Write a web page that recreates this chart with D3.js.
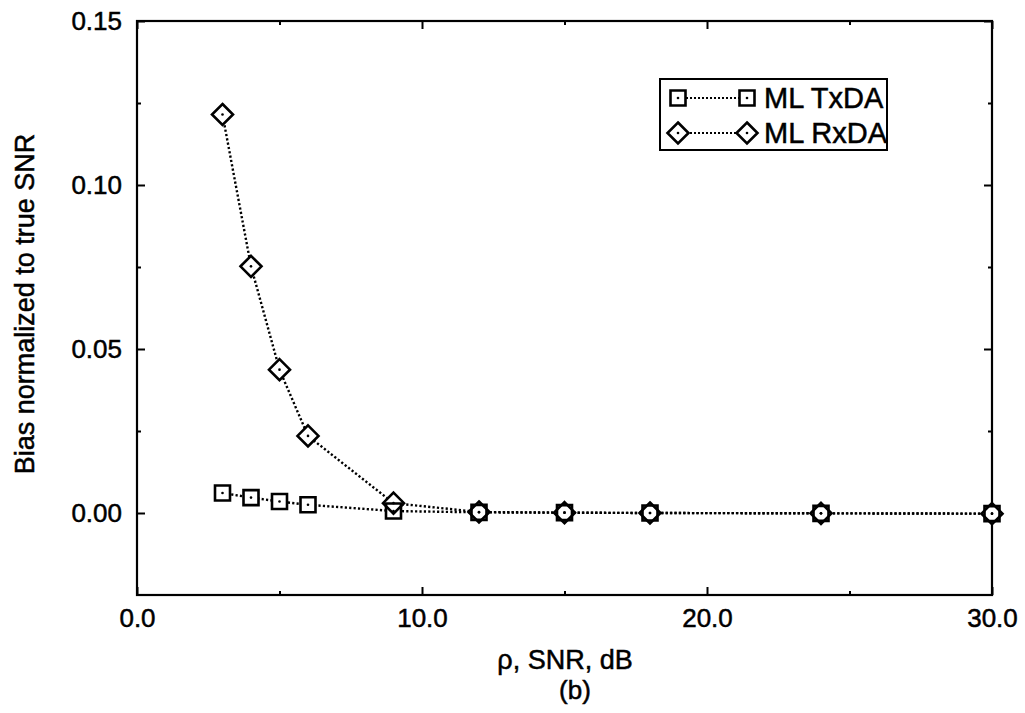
<!DOCTYPE html>
<html>
<head>
<meta charset="utf-8">
<script src="https://cdn.jsdelivr.net/npm/d3@7"></script>
<style>
  body { margin: 0; background: #fff; }
  text { font-family: "Liberation Sans", Arial, Helvetica, sans-serif; fill: #000; stroke: #000; stroke-width: 0.5px; }
</style>
</head>
<body>
<svg id="chart" width="1025" height="713"></svg>
<script>
// snr values (dB)
const snr = [3, 4, 5, 6, 9, 12, 15, 18, 24, 30];
// normalized bias
const txda = [0.0061, 0.0047, 0.0035, 0.0025, 0.0006, 0.0002, 0.0001, 0.0, -0.0001, -0.0002];
const rxda = [0.1215, 0.0752, 0.0437, 0.0235, 0.0030, 0.0003, 0.0001, 0.0, -0.0001, -0.0002];
const seriesNames = ['ML TxDA', 'ML RxDA'];
const xMajor = [0, 10, 20, 30];
const xMinor = [5, 15, 25];
const yMajor = [0.00, 0.05, 0.10, 0.15];
const yMinor = [0.025, 0.075, 0.125];

const plotL = 137, plotR = 992, plotT = 21, plotB = 595;

const svg = d3.select('#chart');

const x = d3.scaleLinear().domain([0, 30]).range([plotL, plotR]);
const y = d3.scaleLinear().domain([-0.025, 0.15]).range([plotB, plotT]);

// axes, ticks inward
function styleAxis(g) {
    g.select('.domain').remove();
    g.selectAll('line').attr('stroke', '#000').attr('stroke-width', 2);
    g.selectAll('text').attr('font-size', 26).attr('fill', '#000')
        .style('font-family', '"Liberation Sans", Arial, sans-serif');
}

svg.append('g').attr('transform', `translate(0,${plotB})`)
    .call(d3.axisBottom(x).tickValues(xMajor).tickSize(-8).tickPadding(14).tickFormat(d3.format('.1f')))
    .call(styleAxis);
svg.append('g').attr('transform', `translate(0,${plotB})`)
    .call(d3.axisBottom(x).tickValues(xMinor).tickSize(-4).tickFormat(''))
    .call(styleAxis);
svg.append('g').attr('transform', `translate(0,${plotT})`)
    .call(d3.axisTop(x).tickValues(xMajor).tickSize(-8).tickFormat(''))
    .call(styleAxis);
svg.append('g').attr('transform', `translate(0,${plotT})`)
    .call(d3.axisTop(x).tickValues(xMinor).tickSize(-4).tickFormat(''))
    .call(styleAxis);

svg.append('g').attr('transform', `translate(${plotL},0)`)
    .call(d3.axisLeft(y).tickValues(yMajor).tickSize(-8).tickPadding(15).tickFormat(d3.format('.2f')))
    .call(styleAxis);
svg.append('g').attr('transform', `translate(${plotL},0)`)
    .call(d3.axisLeft(y).tickValues(yMinor).tickSize(-4).tickFormat(''))
    .call(styleAxis);
svg.append('g').attr('transform', `translate(${plotR},0)`)
    .call(d3.axisRight(y).tickValues(yMajor).tickSize(-8).tickFormat(''))
    .call(styleAxis);
svg.append('g').attr('transform', `translate(${plotR},0)`)
    .call(d3.axisRight(y).tickValues(yMinor).tickSize(-4).tickFormat(''))
    .call(styleAxis);

// frame
svg.append('rect')
    .attr('x', plotL).attr('y', plotT)
    .attr('width', plotR - plotL).attr('height', plotB - plotT)
    .attr('fill', 'none').attr('stroke', '#000').attr('stroke-width', 2.2);

// axis titles
svg.append('text')
    .attr('transform', 'translate(34,304) rotate(-90)')
    .attr('text-anchor', 'middle').attr('font-size', 27)
    .text('Bias normalized to true SNR');
svg.append('text')
    .attr('x', 565).attr('y', 669)
    .attr('text-anchor', 'middle').attr('font-size', 27)
    .text('ρ, SNR, dB');
svg.append('text')
    .attr('x', 575).attr('y', 699)
    .attr('text-anchor', 'middle').attr('font-size', 26)
    .text('(b)');

// marker shapes
const squarePath = d3.symbol().type(d3.symbolSquare).size(15 * 15);
const diamondPath = () => 'M0,-10.5L10.5,0L0,10.5L-10.5,0Z';

const series = [
    { name: seriesNames[0], vals: txda, shape: squarePath, offset: 0 },
    { name: seriesNames[1], vals: rxda, shape: diamondPath, offset: 2.2 }
];

const line = d3.line().x(d => x(d[0])).y(d => y(d[1]));

series.forEach(s => {
    const pts = snr.map((v, i) => [v, s.vals[i]]);
    svg.append('path')
        .attr('d', line(pts))
        .attr('fill', 'none').attr('stroke', '#000')
        .attr('stroke-width', 2.4)
        .attr('stroke-dasharray', '2.2,2.2')
        .attr('stroke-dashoffset', s.offset);
});

// white fill first so lines are hidden inside markers
series.forEach(s => {
    const pts = snr.map((v, i) => [v, s.vals[i]]);
    svg.append('g').selectAll('path').data(pts).join('path')
        .attr('transform', d => `translate(${x(d[0])},${y(d[1])})`)
        .attr('d', s.shape)
        .attr('fill', '#fff');
});
series.forEach(s => {
    const pts = snr.map((v, i) => [v, s.vals[i]]);
    const g = svg.append('g').selectAll('g').data(pts).join('g')
        .attr('transform', d => `translate(${x(d[0])},${y(d[1])})`);
    g.append('path').attr('d', s.shape)
        .attr('fill', 'none').attr('stroke', '#000').attr('stroke-width', 2.6);
    g.append('circle').attr('r', 1.3).attr('fill', '#000');
});

// legend
const lg = svg.append('g');
lg.append('rect')
    .attr('x', 660).attr('y', 79).attr('width', 227).attr('height', 71)
    .attr('fill', '#fff').attr('stroke', '#000').attr('stroke-width', 2);

series.forEach((s, i) => {
    const cy = 98 + i * 35;
    lg.append('line')
        .attr('x1', 678).attr('x2', 747).attr('y1', cy).attr('y2', cy)
        .attr('stroke', '#000').attr('stroke-width', 2)
        .attr('stroke-dasharray', '2,2');
    [678, 747].forEach(mx => {
        const m = lg.append('g').attr('transform', `translate(${mx},${cy})`);
        m.append('path').attr('d', s.shape)
            .attr('fill', '#fff').attr('stroke', '#000').attr('stroke-width', 2.6);
        m.append('circle').attr('r', 1.3).attr('fill', '#000');
    });
    lg.append('text')
        .attr('x', 764).attr('y', cy + 10)
        .attr('font-size', 29)
        .text(s.name);
});
</script>
</body>
</html>
